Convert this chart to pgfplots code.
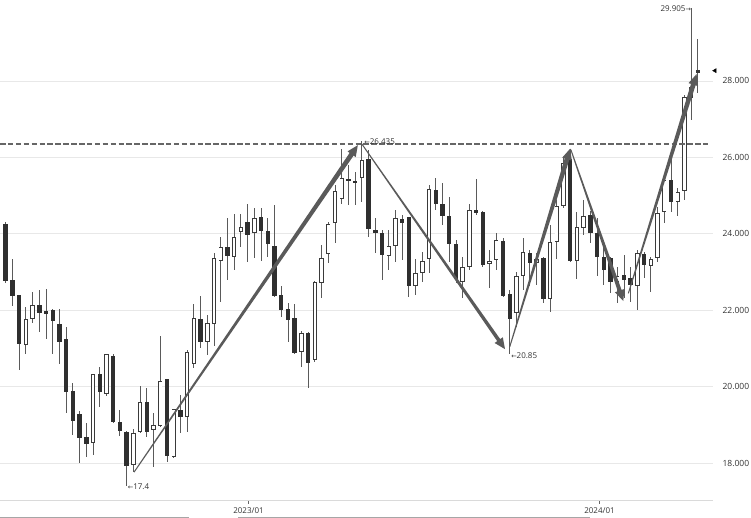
\documentclass[border=0pt]{standalone}
\usepackage{pgfplots}
\pgfplotsset{compat=1.18}
\usepackage{pgfplotstable}
\usepackage{fontspec}
\setmainfont{Open Sans}
\newfontfamily\arrfont{DejaVu Sans}
\usetikzlibrary{calc}
\definecolor{candledark}{HTML}{2F2F2F}
\definecolor{wickc}{HTML}{5A5A5A}
\definecolor{hollowc}{HTML}{3A3A3A}
\definecolor{arrowc}{HTML}{5A5A5A}
\definecolor{dashc}{HTML}{666666}
\definecolor{gridc}{HTML}{E8E8E8}
\definecolor{axisc}{HTML}{DADADA}
\definecolor{textc}{HTML}{333333}

\pgfplotstableread{
i o h l c
0 24.26 24.30 22.70 22.76
1 22.78 23.34 22.12 22.37
2 22.39 22.40 20.43 21.12
3 21.10 22.08 20.85 21.78
4 21.77 22.48 21.66 22.14
5 22.14 22.53 21.42 21.93
6 21.95 22.56 21.24 21.93
7 22.00 22.04 20.85 21.72
8 21.64 22.04 20.60 21.17
9 21.25 21.57 19.30 19.85
10 19.88 20.10 18.73 19.09
11 19.28 19.35 17.99 18.65
12 18.67 19.04 18.15 18.50
13 18.53 20.34 18.21 20.34
14 20.33 20.51 19.47 19.85
15 19.81 20.85 19.75 20.85
16 20.81 20.85 19.04 19.07
17 19.08 19.39 18.71 18.85
18 18.82 18.85 17.40 17.92
19 17.95 18.88 17.76 18.78
20 18.82 20.02 18.78 19.60
21 19.60 19.96 18.69 18.82
22 18.86 19.30 17.90 18.99
23 18.98 21.32 18.95 20.15
24 20.19 20.20 18.03 18.19
25 18.16 19.42 18.14 19.41
26 19.39 19.78 18.78 19.20
27 19.20 20.96 18.82 20.91
28 20.58 22.15 20.48 21.79
29 21.77 22.37 21.00 21.18
30 21.18 21.87 20.83 21.66
31 21.63 23.49 21.07 23.36
32 23.29 23.91 22.22 23.66
33 23.66 24.41 22.79 23.42
34 23.40 24.52 23.05 23.92
35 24.05 24.52 23.66 24.19
36 24.30 24.78 23.27 23.97
37 24.01 24.67 23.36 24.41
38 24.45 24.67 23.29 24.06
39 24.06 24.41 23.40 23.73
40 23.68 24.75 22.35 22.38
41 22.40 22.62 21.83 22.01
42 22.04 22.18 21.18 21.73
43 21.80 22.16 20.85 20.87
44 20.91 21.45 20.52 21.40
45 21.40 21.42 19.96 20.61
46 20.70 22.76 20.65 22.75
47 22.70 23.71 22.31 23.36
48 23.47 24.32 23.23 24.25
49 24.29 25.28 23.75 25.12
50 24.91 26.21 24.78 25.47
51 25.43 25.80 24.75 25.38
52 25.38 25.63 24.75 25.34
53 25.45 26.435 24.84 25.93
54 25.95 26.19 23.92 24.13
55 24.10 24.41 23.49 24.03
56 24.03 24.10 22.79 23.45
57 23.42 24.10 23.05 23.69
58 23.69 24.62 23.27 24.41
59 24.38 24.49 23.31 24.27
60 24.43 24.45 22.35 22.64
61 22.64 23.33 22.40 22.98
62 22.98 23.53 22.75 23.29
63 23.33 25.28 22.97 25.17
64 25.15 25.47 24.62 24.78
65 24.78 25.32 24.23 24.47
66 24.47 24.97 23.27 23.73
67 23.73 23.84 22.71 22.81
68 22.73 23.40 22.31 23.12
69 23.14 24.78 23.05 24.62
70 24.62 25.43 24.50 24.54
71 24.58 24.60 23.14 23.18
72 23.21 23.58 22.57 23.30
73 23.31 24.03 23.05 23.84
74 23.82 23.88 22.35 22.38
75 22.42 22.53 20.85 21.77
76 21.92 23.01 21.55 22.90
77 22.90 23.90 22.53 23.53
78 23.49 23.58 22.62 23.23
79 23.24 23.49 22.66 23.33
80 23.36 23.40 22.18 22.29
81 22.29 24.23 21.96 23.78
82 23.78 24.88 23.33 24.74
83 24.73 25.98 24.67 25.85
84 25.95 26.21 23.25 23.30
85 23.30 24.58 22.81 24.17
86 24.14 24.88 23.97 24.47
87 24.49 24.60 23.75 24.03
88 24.03 24.41 22.90 23.38
89 23.39 23.66 22.66 23.05
90 23.36 23.40 22.44 22.74
91 22.75 23.14 22.18 22.90
92 22.92 23.45 22.31 22.79
93 22.85 23.14 22.22 22.66
94 22.63 23.58 22.01 23.49
95 23.46 23.53 22.84 23.18
96 23.16 23.40 22.48 23.33
97 23.37 24.71 23.27 24.54
98 24.56 25.58 24.27 25.41
99 25.41 25.98 24.58 24.84
100 24.84 25.19 24.47 25.10
101 25.12 27.62 24.88 27.59
102 27.55 29.905 26.98 27.85
103 28.22 29.09 27.68 28.27
}\candles

\newcommand{\taper}[3]{%
  \coordinate (tc) at ($(#2)!11pt!(#1)$);
  \fill[arrowc] ($(#1)!0.5pt!90:(#2)$) -- ($(tc)!#3!90:(#2)$) -- ($(tc)!5pt!90:(#2)$) -- (#2)
    -- ($(tc)!5pt!-90:(#2)$) -- ($(tc)!#3!-90:(#2)$) -- ($(#1)!0.5pt!-90:(#2)$) -- cycle;}

\begin{document}
\begin{tikzpicture}
\begin{axis}[
  scale only axis, width=713pt, height=500pt,
  xmin=-0.848, xmax=105.25, ymin=17.031, ymax=30.12,
  axis x line*=bottom, axis y line*=right,
  x axis line style={draw=axisc, line width=0.8pt},
  y axis line style={draw=none},
  xtick={36.13,88.36}, xticklabels={2023/01,2024/01},
  ytick={18,20,22,24,26,28},
  yticklabels={18.000,20.000,22.000,24.000,26.000,28.000},
  tick align=outside, major tick length=4pt,
  xtick style={draw=black!60, line width=0.6pt},
  ytick style={draw=none},
  ymajorgrids, grid style={draw=gridc, line width=0.8pt},
  xticklabel style={font=\fontsize{8}{9}\selectfont, text=textc},
  yticklabel style={font=\fontsize{8.5}{10}\selectfont, text=textc, xshift=2pt},
  /pgf/number format/assume math mode=true,
  clip=false,
]
% wicks
\addplot[draw=none, mark=none, error bars/.cd, y dir=both, y explicit, error mark=none,
  error bar style={draw=wickc, line width=0.9pt}]
  table[x=i, y expr=(\thisrow{h}+\thisrow{l})/2, y error expr=(\thisrow{h}-\thisrow{l})/2] {\candles};
% bearish bodies
\addplot[draw=none, mark=none, restrict expr to domain={\thisrow{c}-\thisrow{o}}{-100:-0.00001},
  unbounded coords=discard,
  error bars/.cd, y dir=both, y explicit, error mark=none,
  error bar style={draw=candledark, line width=4.4pt}]
  table[x=i, y expr=(\thisrow{o}+\thisrow{c})/2,
  y error expr={max(abs(\thisrow{o}-\thisrow{c})/2,0.03)}] {\candles};
% bullish bodies: outline
\addplot[draw=none, mark=none, restrict expr to domain={\thisrow{c}-\thisrow{o}}{0:100},
  unbounded coords=discard,
  error bars/.cd, y dir=both, y explicit, error mark=none,
  error bar style={draw=hollowc, line width=4.4pt}]
  table[x=i, y expr=(\thisrow{o}+\thisrow{c})/2,
  y error expr={max(abs(\thisrow{o}-\thisrow{c})/2,0.035)}] {\candles};
% bullish bodies: white inside
\addplot[draw=none, mark=none, restrict expr to domain={\thisrow{c}-\thisrow{o}}{0.065:100},
  unbounded coords=discard,
  error bars/.cd, y dir=both, y explicit, error mark=none,
  error bar style={draw=white, line width=2.6pt}]
  table[x=i, y expr=(\thisrow{o}+\thisrow{c})/2,
  y error expr={abs(\thisrow{o}-\thisrow{c})/2-0.026}] {\candles};
% resistance line
\addplot[dashc, line width=2.4pt, dash pattern=on 5.5pt off 2.4pt] coordinates {(-0.848,26.35) (104.5,26.35)};
% last price marker
\addplot[only marks, mark=triangle*, mark size=2.4pt, mark options={rotate=90, fill=black, draw=black}] coordinates {(105.55,28.27)};
% annotations
\node[anchor=west, inner sep=0pt, text=textc, font=\fontsize{8}{9}\selectfont] at (axis cs:18.15,17.37) {{\arrfont\fontsize{6.5}{8}\selectfont ←}17.4};
\node[anchor=west, inner sep=0pt, text=textc, font=\fontsize{8}{9}\selectfont] at (axis cs:53.35,26.40) {{\arrfont\fontsize{6.5}{8}\selectfont ←}26.435};
\node[anchor=west, inner sep=0pt, text=textc, font=\fontsize{8}{9}\selectfont] at (axis cs:75.2,20.81) {{\arrfont\fontsize{6.5}{8}\selectfont ←}20.85};
\node[anchor=east, inner sep=0pt, text=textc, font=\fontsize{8}{9}\selectfont] at (axis cs:102.0,29.88) {29.905{\arrfont\fontsize{6.5}{8}\selectfont →}};
% arrow end points
\coordinate (a1s) at (axis cs:19.1,17.76);
\coordinate (a1e) at (axis cs:52.4,26.32);
\coordinate (a2s) at (axis cs:53.0,26.35);
\coordinate (a2e) at (axis cs:74.3,20.98);
\coordinate (a3s) at (axis cs:75.0,21.04);
\coordinate (a3e) at (axis cs:84.0,26.23);
\coordinate (a4s) at (axis cs:84.1,26.20);
\coordinate (a4e) at (axis cs:91.9,22.24);
\coordinate (a5s) at (axis cs:92.65,22.44);
\coordinate (a5e) at (axis cs:102.8,28.18);
\end{axis}
\taper{a1s}{a1e}{2.4pt}
\taper{a2s}{a2e}{1.8pt}
\taper{a3s}{a3e}{2.4pt}
\taper{a4s}{a4e}{2.0pt}
\taper{a5s}{a5e}{2.4pt}
\draw[black!35, line width=0.8pt] (0,-17pt) -- (189pt,-17pt);
\draw[black!35, line width=0.8pt] (238pt,-17pt) -- (590pt,-17pt);
\pgfresetboundingbox
\path (0,-18pt) rectangle (751pt,500pt);
\end{tikzpicture}
\end{document}
